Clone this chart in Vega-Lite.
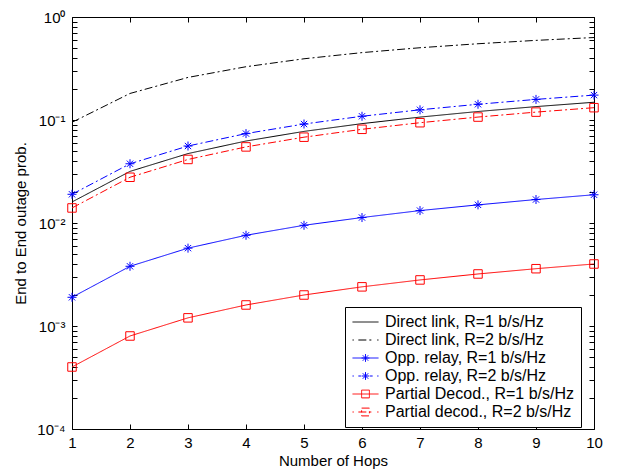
{
  "$schema": "https://vega.github.io/schema/vega-lite/v6.json",
  "width": 522,
  "height": 412,
  "autosize": "none",
  "padding": {"left": 72, "top": 17, "right": 23, "bottom": 44},
  "background": "white",
  "config": {
    "font": "Liberation Sans",
    "view": {"stroke": "black", "strokeWidth": 1},
    "axis": {
      "grid": false,
      "domain": false,
      "ticks": true,
      "tickColor": "black",
      "tickWidth": 1,
      "tickSize": 5,
      "offset": -5,
      "labelColor": "black",
      "titleColor": "black",
      "labelFontSize": 15,
      "titleFontSize": 15,
      "titleFontWeight": "normal",
      "labelOverlap": false,
      "labelFlush": false
    }
  },
  "datasets": {
    "d": [
      {"hops": 1, "series": "Direct link, R=1 b/s/Hz", "p": 0.016},
      {"hops": 2, "series": "Direct link, R=1 b/s/Hz", "p": 0.0317},
      {"hops": 3, "series": "Direct link, R=1 b/s/Hz", "p": 0.0472},
      {"hops": 4, "series": "Direct link, R=1 b/s/Hz", "p": 0.0625},
      {"hops": 5, "series": "Direct link, R=1 b/s/Hz", "p": 0.0775},
      {"hops": 6, "series": "Direct link, R=1 b/s/Hz", "p": 0.0922},
      {"hops": 7, "series": "Direct link, R=1 b/s/Hz", "p": 0.1067},
      {"hops": 8, "series": "Direct link, R=1 b/s/Hz", "p": 0.1209},
      {"hops": 9, "series": "Direct link, R=1 b/s/Hz", "p": 0.1349},
      {"hops": 10, "series": "Direct link, R=1 b/s/Hz", "p": 0.1487},
      {"hops": 1, "series": "Direct link, R=2 b/s/Hz", "p": 0.095},
      {"hops": 2, "series": "Direct link, R=2 b/s/Hz", "p": 0.181},
      {"hops": 3, "series": "Direct link, R=2 b/s/Hz", "p": 0.259},
      {"hops": 4, "series": "Direct link, R=2 b/s/Hz", "p": 0.329},
      {"hops": 5, "series": "Direct link, R=2 b/s/Hz", "p": 0.393},
      {"hops": 6, "series": "Direct link, R=2 b/s/Hz", "p": 0.451},
      {"hops": 7, "series": "Direct link, R=2 b/s/Hz", "p": 0.503},
      {"hops": 8, "series": "Direct link, R=2 b/s/Hz", "p": 0.55},
      {"hops": 9, "series": "Direct link, R=2 b/s/Hz", "p": 0.593},
      {"hops": 10, "series": "Direct link, R=2 b/s/Hz", "p": 0.632},
      {"hops": 1, "series": "Opp. relay, R=1 b/s/Hz", "p": 0.0019},
      {"hops": 2, "series": "Opp. relay, R=1 b/s/Hz", "p": 0.0038},
      {"hops": 3, "series": "Opp. relay, R=1 b/s/Hz", "p": 0.0057},
      {"hops": 4, "series": "Opp. relay, R=1 b/s/Hz", "p": 0.0076},
      {"hops": 5, "series": "Opp. relay, R=1 b/s/Hz", "p": 0.0095},
      {"hops": 6, "series": "Opp. relay, R=1 b/s/Hz", "p": 0.0113},
      {"hops": 7, "series": "Opp. relay, R=1 b/s/Hz", "p": 0.0132},
      {"hops": 8, "series": "Opp. relay, R=1 b/s/Hz", "p": 0.015},
      {"hops": 9, "series": "Opp. relay, R=1 b/s/Hz", "p": 0.0169},
      {"hops": 10, "series": "Opp. relay, R=1 b/s/Hz", "p": 0.0188},
      {"hops": 1, "series": "Opp. relay, R=2 b/s/Hz", "p": 0.019},
      {"hops": 2, "series": "Opp. relay, R=2 b/s/Hz", "p": 0.0376},
      {"hops": 3, "series": "Opp. relay, R=2 b/s/Hz", "p": 0.0559},
      {"hops": 4, "series": "Opp. relay, R=2 b/s/Hz", "p": 0.0738},
      {"hops": 5, "series": "Opp. relay, R=2 b/s/Hz", "p": 0.0914},
      {"hops": 6, "series": "Opp. relay, R=2 b/s/Hz", "p": 0.1087},
      {"hops": 7, "series": "Opp. relay, R=2 b/s/Hz", "p": 0.1256},
      {"hops": 8, "series": "Opp. relay, R=2 b/s/Hz", "p": 0.1422},
      {"hops": 9, "series": "Opp. relay, R=2 b/s/Hz", "p": 0.1585},
      {"hops": 10, "series": "Opp. relay, R=2 b/s/Hz", "p": 0.1745},
      {"hops": 1, "series": "Partial Decod., R=1 b/s/Hz", "p": 0.0004},
      {"hops": 2, "series": "Partial Decod., R=1 b/s/Hz", "p": 0.0008},
      {"hops": 3, "series": "Partial Decod., R=1 b/s/Hz", "p": 0.0012},
      {"hops": 4, "series": "Partial Decod., R=1 b/s/Hz", "p": 0.0016},
      {"hops": 5, "series": "Partial Decod., R=1 b/s/Hz", "p": 0.002},
      {"hops": 6, "series": "Partial Decod., R=1 b/s/Hz", "p": 0.0024},
      {"hops": 7, "series": "Partial Decod., R=1 b/s/Hz", "p": 0.0028},
      {"hops": 8, "series": "Partial Decod., R=1 b/s/Hz", "p": 0.0032},
      {"hops": 9, "series": "Partial Decod., R=1 b/s/Hz", "p": 0.0036},
      {"hops": 10, "series": "Partial Decod., R=1 b/s/Hz", "p": 0.004},
      {"hops": 1, "series": "Partial decod., R=2 b/s/Hz", "p": 0.014},
      {"hops": 2, "series": "Partial decod., R=2 b/s/Hz", "p": 0.0278},
      {"hops": 3, "series": "Partial decod., R=2 b/s/Hz", "p": 0.0414},
      {"hops": 4, "series": "Partial decod., R=2 b/s/Hz", "p": 0.0548},
      {"hops": 5, "series": "Partial decod., R=2 b/s/Hz", "p": 0.0681},
      {"hops": 6, "series": "Partial decod., R=2 b/s/Hz", "p": 0.0812},
      {"hops": 7, "series": "Partial decod., R=2 b/s/Hz", "p": 0.0941},
      {"hops": 8, "series": "Partial decod., R=2 b/s/Hz", "p": 0.1068},
      {"hops": 9, "series": "Partial decod., R=2 b/s/Hz", "p": 0.1193},
      {"hops": 10, "series": "Partial decod., R=2 b/s/Hz", "p": 0.1317}
    ]
  },
  "data": {"name": "d"},
  "layer": [
    {
      "mark": {"type": "point", "filled": false, "opacity": 0, "strokeWidth": 1},
      "encoding": {
        "x": {
          "field": "hops", "type": "quantitative",
          "scale": {"domain": [1, 10], "nice": false, "zero": false},
          "axis": {"orient": "bottom", "title": "Number of Hops", "values": [1,2,3,4,5,6,7,8,9,10], "format": "d", "labelPadding": 6, "titlePadding": 3}
        },
        "y": {
          "field": "p", "type": "quantitative",
          "scale": {"type": "log", "domain": [0.0001, 1], "nice": false},
          "axis": {
            "orient": "left",
            "title": "End to End outage prob.",
            "values": [0.0001,0.0002,0.0003,0.0004,0.0005,0.0006,0.0007,0.0008,0.0009,0.001,0.002,0.003,0.004,0.005,0.006,0.007,0.008,0.009,0.01,0.02,0.03,0.04,0.05,0.06,0.07,0.08,0.09,0.1,0.2,0.3,0.4,0.5,0.6,0.7,0.8,0.9,1],
            "labelExpr": "datum.value===1?'10⁰':datum.value===0.1?'10⁻¹':datum.value===0.01?'10⁻²':datum.value===0.001?'10⁻³':datum.value===0.0001?'10⁻⁴':''",
            "labelPadding": 7,
            "titlePadding": 8
          }
        },
        "color": {
          "field": "series", "type": "nominal",
          "scale": {
            "domain": ["Direct link, R=1 b/s/Hz", "Direct link, R=2 b/s/Hz", "Opp. relay, R=1 b/s/Hz", "Opp. relay, R=2 b/s/Hz", "Partial Decod., R=1 b/s/Hz", "Partial decod., R=2 b/s/Hz"],
            "range": ["black", "black", "blue", "blue", "red", "red"]
          },
          "legend": {
            "title": null, "orient": "none", "legendX": 273, "legendY": 290,
            "strokeColor": "black", "fillColor": "white", "padding": 7,
            "symbolSize": 676, "symbolStrokeWidth": 1, "symbolOpacity": 1,
            "labelFontSize": 16, "labelColor": "black",
            "labelLimit": 300, "labelOffset": 6, "rowPadding": 2, "clipHeight": 16
          }
        },
        "shape": {
          "field": "series", "type": "nominal",
          "scale": {
            "domain": ["Direct link, R=1 b/s/Hz", "Direct link, R=2 b/s/Hz", "Opp. relay, R=1 b/s/Hz", "Opp. relay, R=2 b/s/Hz", "Partial Decod., R=1 b/s/Hz", "Partial decod., R=2 b/s/Hz"],
            "range": [
              "M-1,0H1",
              "M-1,0H-0.9M-0.55,0H0.55M0.9,0H1",
              "M-1,0H1M-0.3,0H0.3M0,-0.3V0.3M-0.21,-0.21L0.21,0.21M-0.21,0.21L0.21,-0.21",
              "M-1,0H-0.9M-0.55,0H-0.35M0.35,0H0.55M0.9,0H1M-0.3,0H0.3M0,-0.3V0.3M-0.21,-0.21L0.21,0.21M-0.21,0.21L0.21,-0.21",
              "M-1,0H1M-0.3,-0.3H0.3V0.3H-0.3Z",
              "M-1,0H-0.9M-0.55,0H0.55M0.9,0H1M-0.3,-0.3H0.3V0.3H-0.3Z"
            ]
          },
          "legend": {
            "title": null, "orient": "none", "legendX": 273, "legendY": 290,
            "strokeColor": "black", "fillColor": "white", "padding": 7,
            "symbolSize": 676, "symbolStrokeWidth": 1, "symbolOpacity": 1,
            "labelFontSize": 16, "labelColor": "black",
            "labelLimit": 300, "labelOffset": 6, "rowPadding": 2, "clipHeight": 16
          }
        }
      }
    },
    {
      "mark": {"type": "line", "strokeWidth": 1},
      "encoding": {
        "x": {"field": "hops", "type": "quantitative", "axis": {"orient": "top", "labels": false, "title": null, "values": [1,2,3,4,5,6,7,8,9,10]}},
        "y": {"field": "p", "type": "quantitative", "axis": {"orient": "right", "labels": false, "title": null, "values": [0.0001,0.0002,0.0003,0.0004,0.0005,0.0006,0.0007,0.0008,0.0009,0.001,0.002,0.003,0.004,0.005,0.006,0.007,0.008,0.009,0.01,0.02,0.03,0.04,0.05,0.06,0.07,0.08,0.09,0.1,0.2,0.3,0.4,0.5,0.6,0.7,0.8,0.9,1]}},
        "color": {"field": "series", "type": "nominal", "legend": null},
        "strokeDash": {
          "field": "series", "type": "nominal",
          "scale": {
            "domain": ["Direct link, R=1 b/s/Hz", "Direct link, R=2 b/s/Hz", "Opp. relay, R=1 b/s/Hz", "Opp. relay, R=2 b/s/Hz", "Partial Decod., R=1 b/s/Hz", "Partial decod., R=2 b/s/Hz"],
            "range": [[1, 0], [8, 3, 2, 3], [1, 0], [8, 3, 2, 3], [1, 0], [8, 3, 2, 3]]
          },
          "legend": null
        }
      }
    },
    {
      "transform": [{"filter": "indexof(datum.series, 'Opp') >= 0"}],
      "mark": {"type": "point", "shape": "M-1,0L1,0M0,-1L0,1M-0.7,-0.7L0.7,0.7M-0.7,0.7L0.7,-0.7", "size": 81, "filled": false, "opacity": 1, "strokeWidth": 1},
      "encoding": {
        "x": {"field": "hops", "type": "quantitative", "axis": null},
        "y": {"field": "p", "type": "quantitative", "axis": null},
        "color": {"field": "series", "type": "nominal", "legend": null}
      }
    },
    {
      "transform": [{"filter": "indexof(lower(datum.series), 'decod') >= 0"}],
      "mark": {"type": "point", "shape": "M-1,-1L1,-1L1,1L-1,1Z", "size": 72, "filled": false, "opacity": 1, "strokeWidth": 1},
      "encoding": {
        "x": {"field": "hops", "type": "quantitative", "axis": null},
        "y": {"field": "p", "type": "quantitative", "axis": null},
        "color": {"field": "series", "type": "nominal", "legend": null}
      }
    }
  ],
  "resolve": {"axis": {"x": "independent", "y": "independent"}}
}
